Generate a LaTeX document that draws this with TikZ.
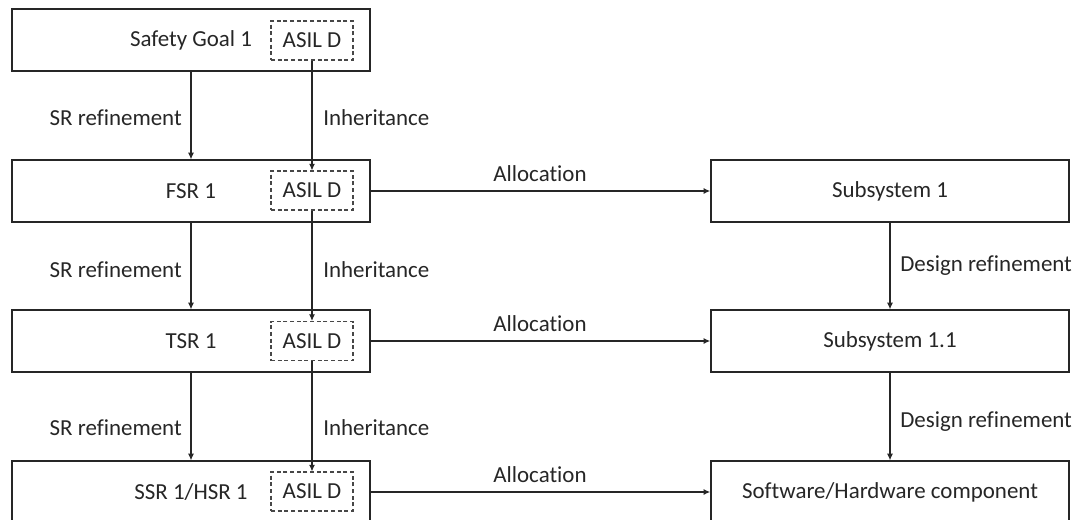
\documentclass[tikz,border=0pt]{standalone}
\usepackage{fontspec}
\setmainfont{Carlito}[Ligatures={NoCommon,NoRequired,NoContextual}]
\usetikzlibrary{arrows.meta}
\definecolor{ink}{HTML}{262626}
\begin{document}
\begin{tikzpicture}[x=0.75pt,y=-0.75pt,
  font=\fontsize{17.2}{20}\selectfont, text=ink,
  reqbox/.style={draw=ink, line width=1pt, minimum width=268.5pt, minimum height=46.5pt, inner sep=0pt},
  asilbox/.style={draw=ink!85, dash pattern=on 3pt off 2pt, line width=0.8pt, minimum width=61.5pt, minimum height=29.25pt, inner sep=0pt},
  down/.style={draw=ink, line width=0.8pt, -{Latex[length=5pt,width=4.5pt]}},
  alloc/.style={draw=ink, line width=1.4pt, -{Latex[length=5pt,width=4.5pt]}},
  lbl/.style={inner sep=0pt}]
\useasboundingbox (0,0) rectangle (1082,519);
% requirement chain (left)
\node[reqbox] (sg)  at (191,40)  {Safety Goal 1};
\node[reqbox] (fsr) at (191,191) {FSR 1};
\node[reqbox] (tsr) at (191,341) {TSR 1};
\node[reqbox] (ssr) at (191,492) {SSR 1/HSR 1};
% ASIL tags
\node[asilbox] (a0) at (312,40.5)  {ASIL D};
\node[asilbox] (a1) at (312,190.5) {ASIL D};
\node[asilbox] (a2) at (312,341)   {ASIL D};
\node[asilbox] (a3) at (312,491.5) {ASIL D};
% architecture chain (right)
\node[reqbox] (s1)  at (890,191) {Subsystem 1};
\node[reqbox] (s11) at (890,341) {Subsystem 1.1};
\node[reqbox] (sw)  at (890,492) {Software/Hardware component};
% refinement arrows
\draw[down] (sg.south)  -- (fsr.north);
\draw[down] (fsr.south) -- (tsr.north);
\draw[down] (tsr.south) -- (ssr.north);
\draw[down] (a0.south) -- (a1.north);
\draw[down] (a1.south) -- (a2.north);
\draw[down] (a2.south) -- (a3.north);
\draw[down] (s1.south)  -- (s11.north);
\draw[down] (s11.south) -- (sw.north);
% allocation arrows
\draw[alloc] (fsr.east) -- (s1.west);
\draw[alloc] (tsr.east) -- (s11.west);
\draw[alloc] (ssr.east) -- (sw.west);
% labels
\node[lbl, anchor=east] (l1) at (182,118) {SR refinement};
\node[lbl, anchor=east] (l2) at (182,270) {SR refinement};
\node[lbl, anchor=east] (l3) at (182,428) {SR refinement};
\node[lbl, anchor=west] (i1) at (323,118) {Inheritance};
\node[lbl, anchor=west] (i2) at (323,270) {Inheritance};
\node[lbl, anchor=west] (i3) at (323,428) {Inheritance};
\node[lbl] (al1) at (540,174) {Allocation};
\node[lbl] (al2) at (540,324) {Allocation};
\node[lbl] (al3) at (540,475) {Allocation};
\node[lbl, anchor=west] (d1) at (900,266) {Design refinement};
\node[lbl, anchor=west] (d2) at (900,422) {Design refinement};
\end{tikzpicture}
\end{document}
